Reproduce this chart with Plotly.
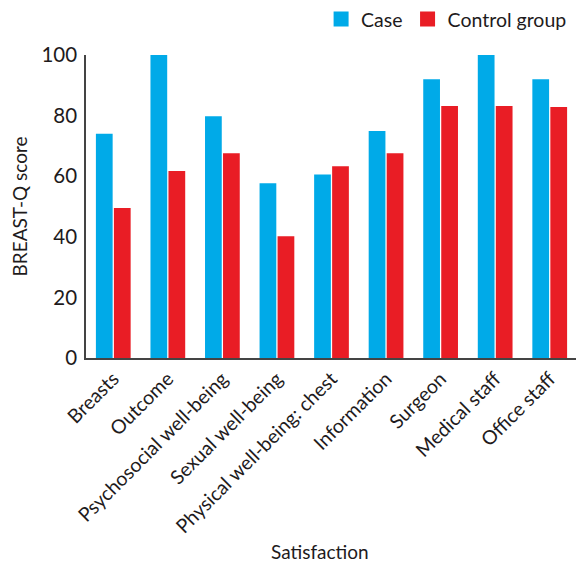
import plotly.graph_objects as go

categories = ["Breasts", "Outcome", "Psychosocial well-being", "Sexual well-being",
              "Physical well-being: chest", "Information", "Surgeon", "Medical staff", "Office staff"]
case_values = [74, 100, 79.8, 57.7, 60.6, 74.9, 92, 100, 92]
control_values = [49.5, 61.7, 67.6, 40.2, 63.3, 67.6, 83.2, 83.2, 82.8]
series_names = ["Case", "Control group"]
series_colors = ["#00AAE8", "#E91D25"]
y_ticks = [0, 20, 40, 60, 80, 100]

FONT = "Lato"
TXT = "#1e1b1c"

fig = go.Figure()
for name, vals, col in zip(series_names, [case_values, control_values], series_colors):
    fig.add_trace(go.Bar(name=name, x=categories, y=vals, marker_color=col,
                         marker_line_width=0, showlegend=False, cliponaxis=False))
for name, col in zip(series_names, series_colors):
    fig.add_trace(go.Scatter(name=name, x=[None], y=[None], mode="markers",
                             marker=dict(symbol="square", size=15, color=col)))

fig.update_layout(
    width=576, height=558,
    margin=dict(l=78, r=7, t=47, b=208, autoexpand=False),
    plot_bgcolor="white", paper_bgcolor="white",
    barmode="group", bargap=0.34, bargroupgap=0.07,
    font=dict(family=FONT, size=19, color=TXT),
    legend=dict(orientation="h", x=0.99, xanchor="right", y=1.118, yanchor="middle",
                font=dict(size=19.5, color=TXT), itemsizing="trace", traceorder="normal",
                itemwidth=30),
    xaxis=dict(tickangle=-45, showline=True, linecolor="#444", linewidth=1.5,
               ticks="", tickfont=dict(size=19.5, color=TXT), automargin=False),
    yaxis=dict(range=[0, 100], tickvals=y_ticks, showline=True, linecolor="#444", linewidth=1.5,
               ticks="", showgrid=False, zeroline=False, tickfont=dict(size=20.5, color=TXT),
               automargin=False, ticklabelstandoff=3,
               title=dict(text="BREAST-Q score", font=dict(size=19, color=TXT), standoff=18)),
    annotations=[dict(text="Satisfaction", xref="paper", yref="paper", x=0.477, y=-0.64,
                      xanchor="center", yanchor="middle", showarrow=False,
                      font=dict(size=19, color=TXT))],
)
fig.write_html("out.html")
